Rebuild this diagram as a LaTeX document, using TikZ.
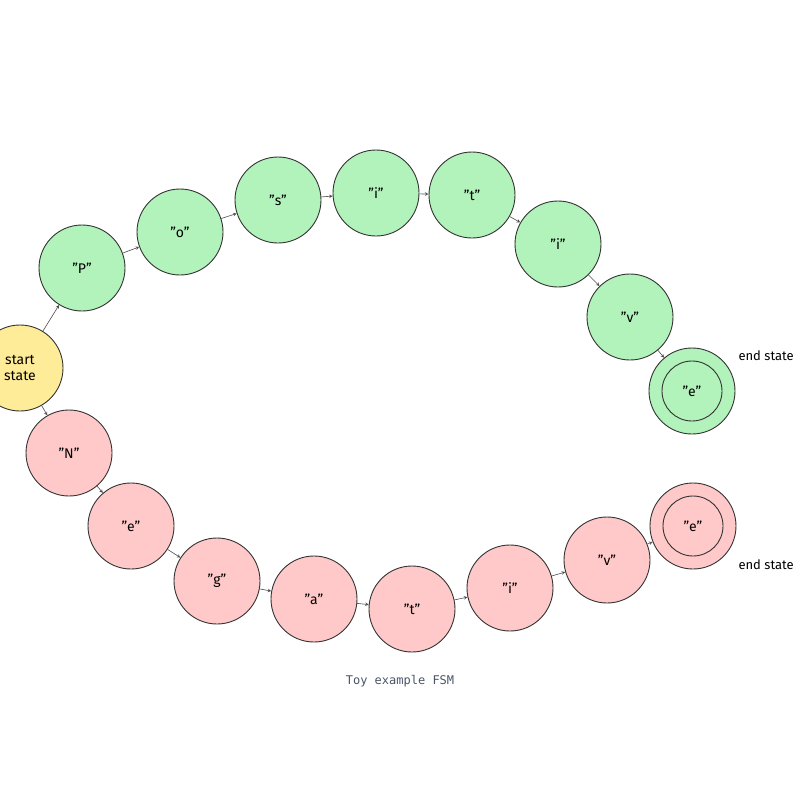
\documentclass[tikz,border=0pt]{standalone}
\usepackage{fontspec}
\setmainfont{Fira Sans}
\newfontfamily\capfont{DejaVu Sans Mono}
\definecolor{goodfill}{HTML}{B2F2BB}
\definecolor{badfill}{HTML}{FFC9C9}
\definecolor{startfill}{HTML}{FFEC99}
\definecolor{capgray}{HTML}{4A5568}
\begin{document}
\begin{tikzpicture}[x=1pt,y=-1pt,
    st/.style={circle,draw=black!80,line width=0.9pt,minimum size=86pt,inner sep=0pt,font=\fontsize{14}{16}\selectfont},
    good/.style={st,fill=goodfill},
    bad/.style={st,fill=badfill},
    fin/.style={double=none,postaction={draw=none}},
    tr/.style={->,>=stealth,draw=black!70,line width=0.6pt}]
    \useasboundingbox (0,0) rectangle (800,800);

    \node[st,fill=startfill,align=center] (start) at (20,368) {start\\state};

    % accepting word
    \node[good] (p1) at (82,268) {"P"};
    \node[good] (p2) at (180,232) {"o"};
    \node[good] (p3) at (278,200) {"s"};
    \node[good] (p4) at (376,193) {"i"};
    \node[good] (p5) at (472,195) {"t"};
    \node[good] (p6) at (558,244) {"i"};
    \node[good] (p7) at (630,317) {"v"};
    \node[good] (p8) at (692,391) {"e"};
    \draw[black!80,line width=0.9pt] (p8.center) circle (30);

    % rejecting word
    \node[bad] (n1) at (69,453) {"N"};
    \node[bad] (n2) at (131,526) {"e"};
    \node[bad] (n3) at (217,581) {"g"};
    \node[bad] (n4) at (314,599) {"a"};
    \node[bad] (n5) at (412,609) {"t"};
    \node[bad] (n6) at (510,588) {"i"};
    \node[bad] (n7) at (607,560) {"v"};
    \node[bad] (n8) at (693,526) {"e"};
    \draw[black!80,line width=0.9pt] (n8.center) circle (30);

    \draw[tr] (start) -- (p1);
    \draw[tr] (start) -- (n1);
    \foreach \a/\b in {1/2,2/3,3/4,4/5,5/6,6/7,7/8}{
        \draw[tr] (p\a) -- (p\b);
        \draw[tr] (n\a) -- (n\b);
    }

    \node[anchor=west,font=\fontsize{13}{15}\selectfont] (endp) at (735,356) {end state};
    \node[anchor=west,font=\fontsize{13}{15}\selectfont] (endn) at (735,565) {end state};
    \node[font=\capfont\fontsize{12}{14}\selectfont,text=capgray] (cap) at (400,681) {Toy example FSM};
\end{tikzpicture}
\end{document}
